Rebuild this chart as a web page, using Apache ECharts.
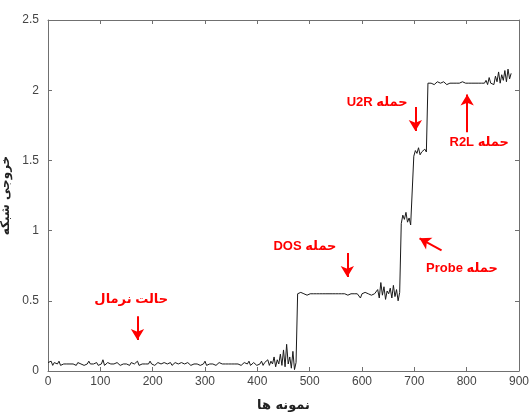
<!DOCTYPE html>
<html>
<head>
<meta charset="utf-8">
<script src="https://cdn.jsdelivr.net/npm/echarts@6/dist/echarts.min.js"></script>
<style>
html,body{margin:0;padding:0;background:#fff;}
#chart{width:532px;height:412px;}
</style>
</head>
<body>
<div id="chart"></div>
<script>
// ---- data ----
const sampleStep = 3; // one value every 3 samples, starting at sample 0
const normalPart = [
  0.06,0.05,0.07,0.04,0.06,0.05,0.05,0.07,0.04,0.05,
  0.05,0.06,0.05,0.04,0.05,0.06,0.05,0.05,0.04,0.06,
  0.05,0.05,0.06,0.04,0.05,0.05,0.07,0.05,0.04,0.05,
  0.05,0.06,0.04,0.05,0.05,0.08,0.04,0.05,0.06,0.05,
  0.05,0.04,0.05,0.05,0.06,0.05,0.04,0.05,0.05,0.06,
  0.05,0.05,0.04,0.06,0.05,0.05,0.05,0.07,0.04,0.05,
  0.05,0.06,0.05,0.04,0.05,0.07,0.05,0.05,0.04,0.05,
  0.06,0.05,0.05,0.04,0.06,0.05,0.05,0.05,0.06,0.04,
  0.05,0.06,0.05,0.05,0.04,0.06,0.05,0.05,0.05,0.06,
  0.05,0.04,0.05,0.05,0.06,0.05,0.05,0.04,0.05,0.05,
  0.07,0.04,0.05,0.05,0.06,0.05,0.05,0.04,0.05,0.06,
  0.05,0.05,0.04,0.05,0.06,0.05,0.05,0.05,0.04,0.05,
  0.06,0.05,0.05,0.04,0.05,0.06,0.05,0.05,0.07,0.04,
  0.05,0.06,0.05,0.04,0.05,0.05,0.07,0.04,0.06,0.05,
  0.08,0.04,0.07,0.05,0.10,0.03,0.08,0.05,0.12,0.04,
  0.15,0.03,0.19,0.05,0.10,0.02,0.14,0.01,0.06
];
const dosPart = [
  0.55,0.55,0.56,0.55,0.55,0.55,0.54,0.55,0.55,0.56,
  0.55,0.55,0.55,0.56,0.55,0.55,0.55,0.54,0.55,0.55,
  0.55,0.56,0.55,0.55,0.55,0.55,0.55,0.56,0.55,0.55,
  0.55,0.55,0.54,0.55,0.55,0.56,0.55,0.55,0.55,0.55,
  0.52,0.55,0.55,0.56,0.55,0.55,0.55,0.54,0.55,0.55,0.56,
  0.58,0.52,0.63,0.54,0.60,0.51,0.57,0.55,0.59,0.52,0.61,0.53,0.58,0.50,0.56
];
const probePart = [1.05,1.11,1.08,1.13,1.06,1.09,1.04,1.05];
const u2rPart = [1.53,1.57,1.55,1.59,1.54,1.56,1.55,1.58,1.56];
const r2lPart = [
  2.05,2.06,2.05,2.05,2.04,2.05,2.06,2.05,2.05,2.05,
  2.06,2.05,2.04,2.05,2.05,2.06,2.05,2.05,2.05,2.04,
  2.05,2.05,2.06,2.05,2.05,2.05,2.05,2.04,2.05,2.06,
  2.05,2.05,2.05,2.06,2.05,2.05,2.05,
  2.07,2.04,2.09,2.05,2.06,2.04,2.10,2.06,2.13,2.05,2.11,2.07,2.14,2.06,2.15,2.08,2.12
];
const xTicks = [0,100,200,300,400,500,600,700,800,900];
const yTicks = [0,0.5,1,1.5,2,2.5];
const xAxisTitle = 'نمونه ها';
const yAxisTitle = 'خروجی شبکه';

// annotations: label text (visual order), label anchor, arrow tail, arrow head (data units)
const annoTexts = ['حالت نرمال','DOS حمله','Probe حمله','U2R حمله','R2L حمله'];
const annoTextPos = [[159,0.51],[491,0.89],[791,0.73],[629,1.91],[824,1.63]];
const annoArrowFrom = [[171,0.39],[572,0.84],[752,0.86],[702,1.88],[801,1.70]];
const annoArrowTo = [[171,0.22],[572,0.67],[710,0.945],[702,1.71],[801,1.97]];

// ---- build ----
const allValues = [].concat(normalPart, dosPart, probePart, u2rPart, r2lPart);
const seriesData = allValues.map((v, i) => [i * sampleStep, v]);

const axisLineColor = '#707070';
const labelColor = '#444';
const baseX = {
  type: 'value', min: xTicks[0], max: xTicks[xTicks.length - 1], interval: xTicks[1] - xTicks[0],
  axisLine: { show: true, onZero: false, lineStyle: { color: axisLineColor, width: 1 } },
  axisTick: { show: true, inside: true, length: 4, lineStyle: { color: axisLineColor } },
  splitLine: { show: false }
};
const baseY = {
  type: 'value', min: yTicks[0], max: yTicks[yTicks.length - 1], interval: yTicks[1] - yTicks[0],
  axisLine: { show: true, onZero: false, lineStyle: { color: axisLineColor, width: 1 } },
  axisTick: { show: true, inside: true, length: 4, lineStyle: { color: axisLineColor } },
  splitLine: { show: false }
};

const chart = echarts.init(document.getElementById('chart'), null, { renderer: 'canvas' });
const option = {
  animation: false,
  backgroundColor: '#fff',
  grid: { left: 48, right: 13, top: 20, bottom: 41, containLabel: false, outerBoundsMode: 'none' },
  xAxis: [
    Object.assign({}, baseX, {
      position: 'bottom',
      axisLabel: { color: labelColor, fontSize: 12, fontFamily: 'Liberation Sans, Arial, sans-serif', margin: 5 },
      name: xAxisTitle, nameLocation: 'middle', nameGap: 28,
      nameTextStyle: { color: '#222', fontSize: 13, fontWeight: 'bold', fontFamily: 'DejaVu Sans, sans-serif' }
    }),
    Object.assign({}, baseX, { position: 'top', axisLabel: { show: false } })
  ],
  yAxis: [
    Object.assign({}, baseY, {
      position: 'left',
      axisLabel: { color: labelColor, fontSize: 12, fontFamily: 'Liberation Sans, Arial, sans-serif', margin: 9 },
      name: yAxisTitle, nameLocation: 'middle', nameGap: 32, nameRotate: 90,
      nameTextStyle: { color: '#222', fontSize: 12, fontWeight: 'bold', fontFamily: 'DejaVu Sans, sans-serif' }
    }),
    Object.assign({}, baseY, { position: 'right', axisLabel: { show: false } })
  ],
  series: [{
    type: 'line',
    xAxisIndex: 0, yAxisIndex: 0,
    data: seriesData,
    showSymbol: false,
    symbol: 'none',
    lineStyle: { color: '#1a1a1a', width: 1 },
    clip: true,
    markLine: {
      silent: true,
      symbol: ['none', 'arrow'],
      symbolSize: [10, 11],
      label: { show: false },
      lineStyle: { color: '#ff0000', width: 2, type: 'solid' },
      data: annoArrowFrom.map((f, i) => [{ coord: f }, { coord: annoArrowTo[i] }])
    }
  }]
};
chart.setOption(option);

const textGraphics = annoTexts.map((t, i) => {
  const p = chart.convertToPixel({ xAxisIndex: 0, yAxisIndex: 0 }, annoTextPos[i]);
  return {
    type: 'text', x: p[0], y: p[1], z: 10,
    style: {
      text: t, fill: '#ff0000', align: 'center', verticalAlign: 'middle',
      font: 'bold 13px "Liberation Sans", "DejaVu Sans", sans-serif'
    }
  };
});
chart.setOption({ graphic: textGraphics });
</script>
</body>
</html>
